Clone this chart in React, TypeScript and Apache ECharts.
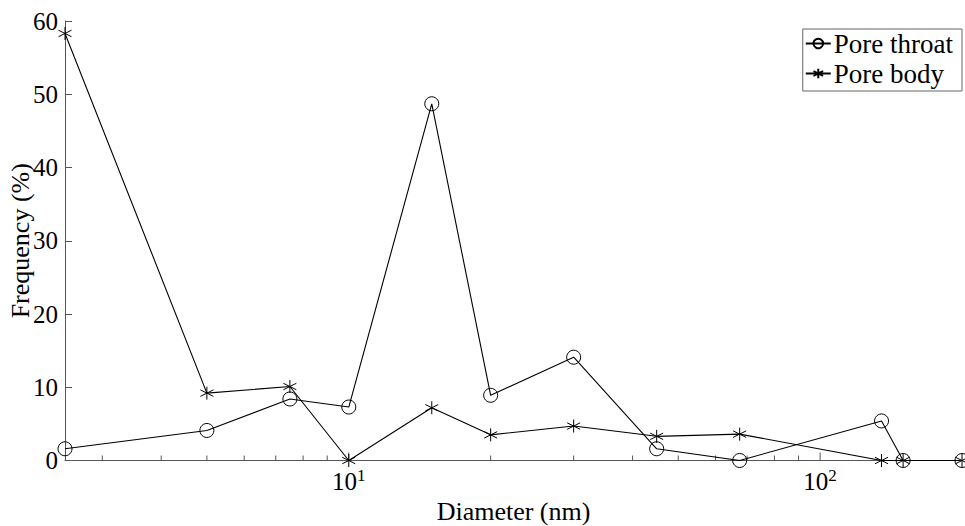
import React, { useEffect, useRef } from "react";
import * as echarts from "echarts";

const diameters = [2.5, 5, 7.5, 10, 15, 20, 30, 45, 67.5, 135, 150, 200];
const poreThroat = [1.6, 4.1, 8.4, 7.3, 48.7, 8.9, 14.1, 1.6, 0, 5.4, 0, 0];
const poreBody = [58.3, 9.2, 10.1, 0, 7.2, 3.5, 4.7, 3.3, 3.6, 0, 0, 0];
const minorTicks = [3, 4, 5, 6, 7, 8, 9, 20, 30, 40, 50, 60, 70, 80, 90];
const majorTicks = [10, 100];
const yTicks = [0, 10, 20, 30, 40, 50, 60];

const FONT = "'Liberation Serif', 'Times New Roman', serif";
const ASTERISK = "path://M5,0 L5,10 M0.67,2.5 L9.33,7.5 M0.67,7.5 L9.33,2.5";

export default function App() {
  const ref = useRef<HTMLDivElement>(null);
  useEffect(() => {
    const chart = echarts.init(ref.current!, undefined, { renderer: "svg" });
    const tickData = [
      ...minorTicks.map((v) => [v, 5]),
      ...majorTicks.map((v) => [v, 8]),
    ];
    chart.setOption({
      animation: false,
      backgroundColor: "#fff",
      textStyle: { fontFamily: FONT },
      grid: { left: 65, right: 3, top: 21, bottom: 65.5, outerBoundsMode: "none", containLabel: false },
      legend: {
        data: ["Pore throat", "Pore body"],
        orient: "vertical",
        right: 3,
        top: 29,
        padding: [1, 9, 4, 2],
        itemGap: 3,
        itemWidth: 25,
        itemHeight: 12,
        borderColor: "#666",
        borderWidth: 1,
        backgroundColor: "#fff",
        textStyle: { fontFamily: FONT, fontSize: 27, color: "#000", lineHeight: 26, padding: [0, 0, 0, -2] },
      },
      xAxis: {
        type: "log",
        logBase: 10,
        min: 2.5,
        max: 200,
        name: "Diameter (nm)",
        nameLocation: "middle",
        nameGap: 37,
        nameTextStyle: { fontFamily: FONT, fontSize: 26, color: "#000" },
        axisLine: { show: true, lineStyle: { color: "#555", width: 1 } },
        axisTick: { show: false },
        splitLine: { show: false },
        axisLabel: {
          margin: 6,
          color: "#000",
          fontFamily: FONT,
          fontSize: 25,
          formatter: (v: number) => {
            const l = Math.log10(v);
            if (Math.abs(l - Math.round(l)) < 1e-6 && (Math.round(l) === 1 || Math.round(l) === 2)) {
              return "{b|10}{s|" + Math.round(l) + "}";
            }
            return "";
          },
          rich: {
            b: { fontFamily: FONT, fontSize: 25, color: "#000" },
            s: { fontFamily: FONT, fontSize: 17, color: "#000", padding: [0, 0, 12, 0] },
          },
        },
      },
      yAxis: {
        type: "value",
        min: 0,
        max: 60,
        interval: 10,
        name: "Frequency (%)",
        nameLocation: "middle",
        nameGap: 32,
        nameMoveOverlap: false,
        nameRotate: 90,
        nameTextStyle: { fontFamily: FONT, fontSize: 26, color: "#000" },
        axisLine: { show: true, lineStyle: { color: "#555", width: 1 } },
        axisTick: { show: true, inside: true, length: 7, lineStyle: { color: "#555" } },
        splitLine: { show: false },
        axisLabel: {
          margin: 7,
          color: "#000",
          fontFamily: FONT,
          fontSize: 25,
          formatter: (v: number) => (yTicks.includes(v) ? String(v) : ""),
        },
      },
      series: [
        {
          type: "custom",
          silent: true,
          data: tickData,
          z: 1,
          renderItem: (params: any, api: any) => {
            const p = api.coord([api.value(0), 0]);
            const len = api.value(1);
            return {
              type: "line",
              shape: { x1: p[0], y1: p[1], x2: p[0], y2: p[1] - len },
              style: { stroke: "#555", lineWidth: 1 },
            };
          },
        },
        {
          name: "Pore throat",
          type: "line",
          data: diameters.map((d, i) => [d, poreThroat[i]]),
          symbol: "circle",
          symbolSize: 14,
          showSymbol: true,
          lineStyle: { color: "#000", width: 1.1 },
          itemStyle: { color: "rgba(0,0,0,0)", borderColor: "#000", borderWidth: 1 },
          z: 3,
        },
        {
          name: "Pore body",
          type: "line",
          data: diameters.map((d, i) => [d, poreBody[i]]),
          symbol: ASTERISK,
          symbolSize: 13,
          showSymbol: true,
          lineStyle: { color: "#000", width: 1.1 },
          itemStyle: { color: "rgba(0,0,0,0)", borderColor: "#000", borderWidth: 1 },
          z: 3,
        },
      ],
    });
    return () => chart.dispose();
  }, []);
  return <div ref={ref} style={{ width: 965, height: 526, position: "absolute", left: 0, top: 0 }} />;
}
